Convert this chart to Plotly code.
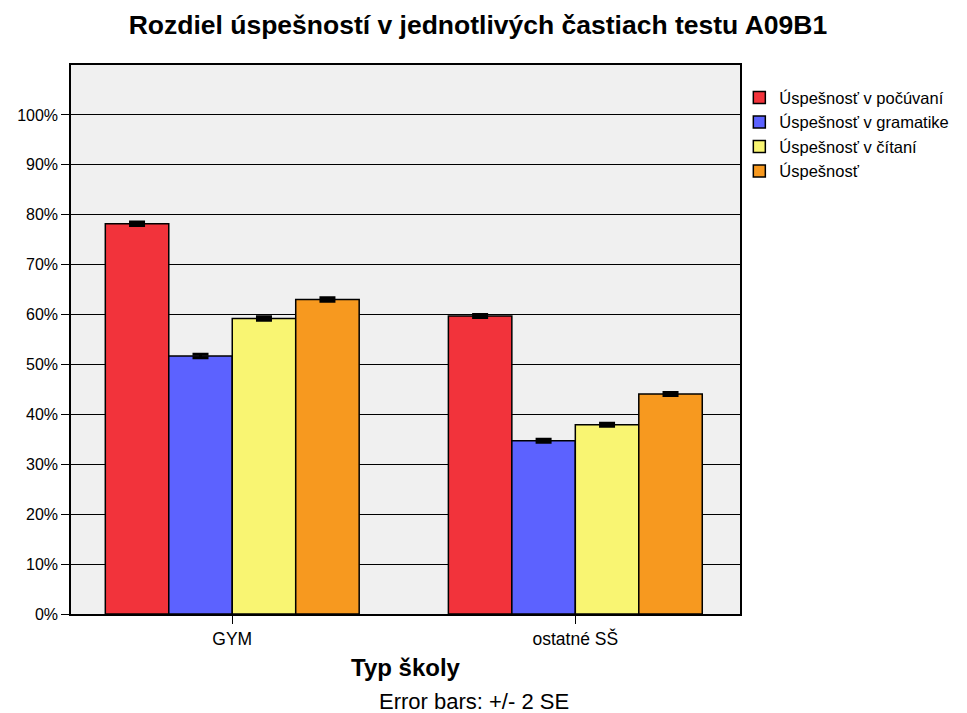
import plotly.graph_objects as go

categories = ["GYM", "ostatné SŠ"]
series_names = ["Úspešnosť v počúvaní", "Úspešnosť v gramatike", "Úspešnosť v čítaní", "Úspešnosť"]
values = [
    [78.2, 59.7],
    [51.7, 34.7],
    [59.2, 37.9],
    [63.0, 44.1],
]
errors = [
    [0.35, 0.3],
    [0.35, 0.3],
    [0.35, 0.3],
    [0.35, 0.3],
]
colors = ["#F2333B", "#5C62FF", "#F9F572", "#F7991F"]

fig = go.Figure()
for name, vals, err, col in zip(series_names, values, errors, colors):
    fig.add_trace(go.Bar(
        name=name, x=categories, y=vals,
        marker=dict(color=col, line=dict(color="black", width=1.5)),
        error_y=dict(type="data", array=err, color="black", thickness=3, width=8),
    ))

# page body has an 8px margin, so the figure is a bit smaller than the window
fig.update_layout(
    barmode="group", bargap=0.26, bargroupgap=0,
    width=959, height=705,
    margin=dict(l=63, r=227, t=57, b=99, autoexpand=False),
    paper_bgcolor="white", plot_bgcolor="#F0F0F0",
    font=dict(family="Arial, Liberation Sans", color="black", size=16),
    title=dict(text="<b>Rozdiel úspešností v jednotlivých častiach testu A09B1</b>",
               x=0.49, xanchor="center", y=0.976, yanchor="middle", font=dict(size=26.5)),
    legend=dict(x=0.999, y=0.972, xanchor="left", yanchor="top", bgcolor="rgba(0,0,0,0)",
                font=dict(size=16.5), tracegroupgap=0, itemwidth=30),
    showlegend=True,
)
fig.update_xaxes(range=[-0.47, 1.48], showline=True, linecolor="black", linewidth=1.5,
                 mirror=True, ticks="outside", ticklen=8, tickcolor="black",
                 tickfont=dict(size=17.5),
                 title=dict(text="<b>Typ školy</b>", font=dict(size=24), standoff=11))
fig.update_yaxes(range=[0, 110], tickvals=list(range(0, 101, 10)),
                 ticktext=[f"{v}%" for v in range(0, 101, 10)],
                 showline=True, linecolor="black", linewidth=1.5, mirror=True,
                 ticks="outside", ticklen=8, tickcolor="black",
                 showgrid=True, gridcolor="black", gridwidth=1.2, zeroline=False)
fig.add_annotation(text="Error bars: +/- 2 SE", xref="paper", yref="paper",
                   x=0.603, y=-0.16, xanchor="center", yanchor="middle",
                   showarrow=False, font=dict(size=22))

fig.write_html("out.html")
